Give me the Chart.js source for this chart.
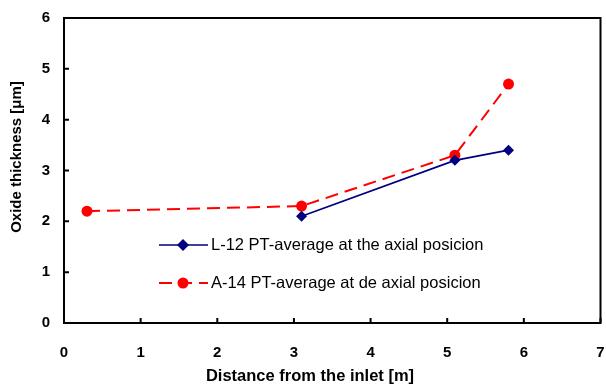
<!DOCTYPE html>
<html><head><meta charset="utf-8">
<script src="https://cdn.jsdelivr.net/npm/chart.js@4/dist/chart.umd.min.js"></script>
<style>html,body{margin:0;padding:0;background:#fff}#wrap{width:606px;height:389px}</style>
</head><body><div id="wrap"><canvas id="c" width="606" height="389"></canvas></div>
<script>
const xL12 = [3.1, 5.1, 5.8];
const yL12 = [2.1, 3.2, 3.4];
const xA14 = [0.3, 3.1, 5.1, 5.8];
const yA14 = [2.2, 2.3, 3.3, 4.7];
const seriesNames = ["L-12 PT-average at the axial posicion", "A-14 PT-average at de axial posicion"];
const xTitle = "Distance from the inlet [m]";
const yTitle = "Oxide thickness [\u03bcm]";
const FONT = "'Liberation Sans', Arial, sans-serif";

const toPts = (xs, ys) => xs.map((x, i) => ({x: x, y: ys[i]}));

const frame = {
  id: 'frame',
  afterDatasetsDraw(chart) {
    const ctx = chart.ctx, a = chart.chartArea;
    const xs = chart.scales.x, ys = chart.scales.y;
    ctx.save();
    ctx.strokeStyle = '#000'; ctx.lineWidth = 2;
    ctx.strokeRect(a.left, a.top, a.right - a.left, a.bottom - a.top);
    ctx.beginPath();
    ys.ticks.forEach(t => { const p = ys.getPixelForValue(t.value); ctx.moveTo(a.left, p); ctx.lineTo(a.left + 5, p); });
    xs.ticks.forEach(t => { const p = xs.getPixelForValue(t.value); ctx.moveTo(p, a.bottom); ctx.lineTo(p, a.bottom - 5); });
    ctx.stroke();
    // axis titles
    ctx.fillStyle = '#000'; ctx.textAlign = 'center'; ctx.textBaseline = 'middle';
    ctx.font = 'bold 16.5px ' + FONT;
    ctx.fillText(xTitle, 310, 376);
    ctx.save();
    ctx.translate(17, 157); ctx.rotate(-Math.PI / 2);
    ctx.font = 'bold 15px ' + FONT;
    ctx.fillText(yTitle, 0, 0);
    ctx.restore();
    // legend
    const lx = a.left + 95, ly = [a.top + 227, a.top + 265];
    chart.data.datasets.forEach((ds, i) => {
      const y = ly[i];
      ctx.save();
      ctx.strokeStyle = ds.borderColor; ctx.lineWidth = ds.borderWidth;
      ctx.setLineDash(ds.borderDash || []);
      ctx.beginPath(); ctx.moveTo(lx, y); ctx.lineTo(lx + 49, y); ctx.stroke();
      ctx.restore();
      ctx.fillStyle = ds.pointBackgroundColor;
      ctx.beginPath();
      const cx = lx + 24, r = ds.pointRadius;
      if (ds.pointStyle === 'rectRot') {
        ctx.moveTo(cx, y - r - 0.5); ctx.lineTo(cx + r + 0.5, y); ctx.lineTo(cx, y + r + 0.5); ctx.lineTo(cx - r - 0.5, y);
      } else { ctx.arc(cx, y, r, 0, Math.PI * 2); }
      ctx.closePath(); ctx.fill();
      ctx.fillStyle = '#000'; ctx.font = '16.5px ' + FONT; ctx.textBaseline = 'middle'; ctx.textAlign = 'left';
      ctx.fillText(ds.label, lx + 52, y);
    });
    ctx.restore();
  }
};

new Chart(document.getElementById('c'), {
  type: 'scatter',
  data: {
    datasets: [
      { label: seriesNames[0], data: toPts(xL12, yL12), showLine: true, borderColor: '#000080', backgroundColor: '#000080',
        pointBackgroundColor: '#000080', pointBorderWidth: 0, borderWidth: 1.7, pointStyle: 'rectRot', pointRadius: 5.5 },
      { label: seriesNames[1], data: toPts(xA14, yA14), showLine: true, borderColor: '#ff0000', backgroundColor: '#ff0000',
        pointBackgroundColor: '#ff0000', pointBorderWidth: 0, borderWidth: 2, borderDash: [13, 7], pointStyle: 'circle', pointRadius: 5.5 }
    ]
  },
  options: {
    responsive: false, animation: false, devicePixelRatio: 1,
    layout: { padding: { top: 18, right: 3, left: 0, bottom: 0 } },
    plugins: { legend: { display: false }, tooltip: { enabled: false } },
    scales: {
      x: { type: 'linear', min: 0, max: 7,
        ticks: { stepSize: 1, padding: 21, color: '#000', font: { family: FONT, size: 15, weight: 'bold' } },
        grid: { display: false, drawTicks: false }, border: { display: false },
        title: { display: false },
        afterFit(s) { s.height = 66; s.paddingLeft = 0; s.paddingRight = 0; } },
      y: { type: 'linear', min: 0, max: 6,
        ticks: { stepSize: 1, padding: 14, color: '#000', font: { family: FONT, size: 15, weight: 'bold' } },
        grid: { display: false, drawTicks: false }, border: { display: false },
        title: { display: false },
        afterFit(s) { s.width = 64; s.paddingTop = 0; s.paddingBottom = 0; } }
    }
  },
  plugins: [frame]
});
</script></body></html>
